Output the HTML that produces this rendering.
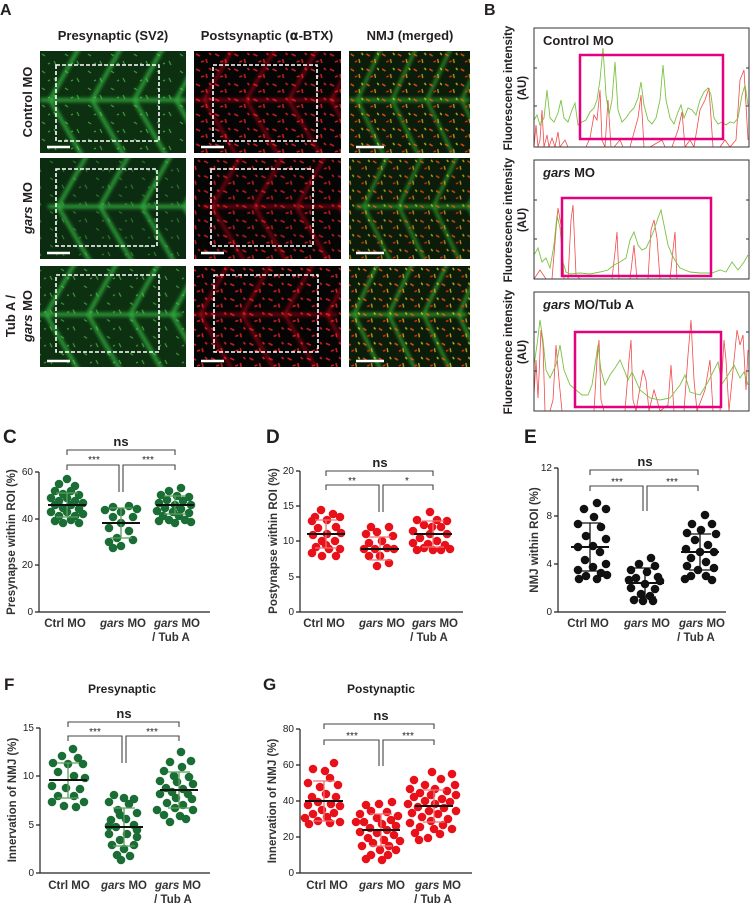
<!DOCTYPE html>
<html><head><meta charset="utf-8"><style>
html,body{margin:0;padding:0;background:#fff}
svg{display:block}
text{font-family:"Liberation Sans",sans-serif}
</style></head><body>
<svg width="753" height="903" viewBox="0 0 753 903" xmlns="http://www.w3.org/2000/svg" xmlns:xlink="http://www.w3.org/1999/xlink">
<defs>
<filter id="bl" x="-10%" y="-10%" width="120%" height="120%"><feGaussianBlur stdDeviation="1.8"/></filter>
<g id="chev" fill="none">
<line x1="0" y1="49" x2="146" y2="49"/>
<polyline points="40,-5 10,49 44,108"/>
<polyline points="82,-5 52,49 86,108"/>
<polyline points="124,-5 94,49 128,108"/>
<polyline points="166,-5 136,49 170,108"/>
</g>
<pattern id="pg" width="23" height="17" patternUnits="userSpaceOnUse">
<g stroke="#5fd35a" stroke-width="1.3"><line x1="2" y1="3" x2="5" y2="5"/><line x1="14" y1="10" x2="16" y2="14"/><line x1="8" y1="13" x2="10" y2="12"/></g></pattern>
<pattern id="pr" width="19" height="15" patternUnits="userSpaceOnUse">
<g stroke="#ff2424" stroke-width="1.6"><line x1="2" y1="3" x2="6" y2="5"/><line x1="12" y1="8" x2="13" y2="12"/><line x1="7" y1="11" x2="10" y2="10"/><line x1="15" y1="2" x2="17" y2="4"/></g></pattern>
<pattern id="po" width="19" height="15" patternUnits="userSpaceOnUse">
<g stroke-width="1.6"><line x1="2" y1="3" x2="6" y2="5" stroke="#ff5a10"/><line x1="12" y1="8" x2="13" y2="12" stroke="#e8b21a"/><line x1="7" y1="11" x2="10" y2="10" stroke="#ff3010"/><line x1="15" y1="2" x2="17" y2="4" stroke="#d8d020"/></g></pattern>
</defs>
<rect width="753" height="903" fill="#fff"/>

<g>
<svg x="40" y="51" width="146" height="102" viewBox="0 0 146 102" preserveAspectRatio="none"><rect width="146" height="102" fill="#0c3010"/><use xlink:href="#chev" stroke="#32a83c" stroke-width="3.5" filter="url(#bl)"/><rect width="146" height="102" fill="url(#pg)" opacity="0.6"/></svg>
<svg x="194" y="51" width="147" height="102" viewBox="0 0 146 102" preserveAspectRatio="none"><rect width="146" height="102" fill="#050505"/><use xlink:href="#chev" stroke="#a00c16" stroke-width="2.5" filter="url(#bl)"/><rect width="146" height="102" fill="url(#pr)" opacity="0.75"/></svg>
<svg x="349" y="51" width="121" height="102" viewBox="0 0 146 102" preserveAspectRatio="none"><rect width="146" height="102" fill="#0b1c0a"/><use xlink:href="#chev" stroke="#2a8a26" stroke-width="3.5" filter="url(#bl)"/><rect width="146" height="102" fill="url(#po)" opacity="0.8"/></svg>
<svg x="40" y="158" width="146" height="101" viewBox="-8 0 146 102" preserveAspectRatio="none"><rect x="-8" width="146" height="102" fill="#0b2c10"/><use xlink:href="#chev" stroke="#32a83c" stroke-width="3.5" filter="url(#bl)"/><rect x="-8" width="146" height="102" fill="url(#pg)" opacity="0.4"/></svg>
<svg x="194" y="158" width="147" height="101" viewBox="-8 0 146 102" preserveAspectRatio="none"><rect x="-8" width="146" height="102" fill="#050505"/><use xlink:href="#chev" stroke="#a00c16" stroke-width="2.5" filter="url(#bl)"/><rect x="-8" width="146" height="102" fill="url(#pr)" opacity="0.7"/></svg>
<svg x="349" y="158" width="121" height="101" viewBox="-8 0 146 102" preserveAspectRatio="none"><rect x="-8" width="146" height="102" fill="#0b1c0a"/><use xlink:href="#chev" stroke="#2a8a26" stroke-width="3.5" filter="url(#bl)"/><rect x="-8" width="146" height="102" fill="url(#po)" opacity="0.75"/></svg>
<svg x="40" y="266" width="146" height="101" viewBox="4 0 146 102" preserveAspectRatio="none"><rect x="4" width="146" height="102" fill="#0c3010"/><use xlink:href="#chev" stroke="#32a83c" stroke-width="3.5" filter="url(#bl)"/><rect x="4" width="146" height="102" fill="url(#pg)" opacity="0.6"/></svg>
<svg x="194" y="266" width="147" height="101" viewBox="4 0 146 102" preserveAspectRatio="none"><rect x="4" width="146" height="102" fill="#050505"/><use xlink:href="#chev" stroke="#a00c16" stroke-width="2.5" filter="url(#bl)"/><rect x="4" width="146" height="102" fill="url(#pr)" opacity="0.8"/></svg>
<svg x="349" y="266" width="121" height="101" viewBox="4 0 146 102" preserveAspectRatio="none"><rect x="4" width="146" height="102" fill="#0b1c0a"/><use xlink:href="#chev" stroke="#32982a" stroke-width="3.5" filter="url(#bl)"/><rect x="4" width="146" height="102" fill="url(#po)" opacity="0.85"/></svg>
<g fill="none" stroke="#fff" stroke-width="1.6" stroke-dasharray="4 2">
<rect x="56" y="65" width="103" height="76"/><rect x="213" y="65" width="104" height="76"/>
<rect x="56" y="169" width="101" height="77"/><rect x="211" y="169" width="102" height="77"/>
<rect x="56" y="275" width="103" height="77"/><rect x="214" y="275" width="104" height="77"/>
</g>
<g stroke="#fff" stroke-width="2.5">
<line x1="47" y1="147" x2="70" y2="147"/><line x1="201" y1="147" x2="224" y2="147"/><line x1="356" y1="147" x2="384" y2="147"/>
<line x1="47" y1="253" x2="70" y2="253"/><line x1="201" y1="253" x2="224" y2="253"/><line x1="356" y1="253" x2="384" y2="253"/>
<line x1="47" y1="361" x2="70" y2="361"/><line x1="201" y1="361" x2="224" y2="361"/><line x1="356" y1="361" x2="384" y2="361"/>
</g>
</g>

<g font-weight="bold" fill="#231f20">
<text x="0" y="15" font-size="16">A</text>
<text x="484" y="15" font-size="16">B</text>
<text x="113" y="40" font-size="13" text-anchor="middle">Presynaptic (SV2)</text>
<text x="267" y="40" font-size="13" text-anchor="middle">Postsynaptic (<tspan font-family="DejaVu Sans">α</tspan>-BTX)</text>
<text x="410" y="40" font-size="13" text-anchor="middle">NMJ (merged)</text>
<text transform="translate(32,102) rotate(-90)" font-size="13" text-anchor="middle">Control MO</text>
<text transform="translate(32,208) rotate(-90)" font-size="13" text-anchor="middle"><tspan font-style="italic">gars</tspan> MO</text>
<text transform="translate(15,316) rotate(-90)" font-size="13" text-anchor="middle">Tub A /</text>
<text transform="translate(32,316) rotate(-90)" font-size="13" text-anchor="middle"><tspan font-style="italic">gars</tspan> MO</text>
<text x="3" y="443" font-size="19">C</text>
<text x="266" y="443" font-size="19">D</text>
<text x="524" y="443" font-size="19">E</text>
<text x="4" y="690" font-size="17">F</text>
<text x="263" y="690" font-size="17">G</text>
<text x="122" y="693" font-size="12" text-anchor="middle">Presynaptic</text>
<text x="381" y="693" font-size="12" text-anchor="middle">Postynaptic</text>
</g>

<svg x="534" y="28" width="215" height="119" viewBox="534 28 215 119">
<polyline fill="none" stroke="#f24a4a" stroke-width="0.8" points="534,147 536,125 538,147 540,140 542,110 544,147 547,135 549,147 552,138 555,147 558,132 560,147 565,140 568,147 574,147 586,147 590,138 594,115 597,120 600,90 602,140 605,147 608,100 611,147 614,147 620,140 623,147 630,147 638,118 641,95 644,147 650,147 662,140 665,147 672,147 678,130 682,112 685,147 690,140 694,147 700,110 705,100 709,88 713,147 720,147 725,140 730,147 736,140 740,80 744,70 748,140"/>
<polyline fill="none" stroke="#7cc242" stroke-width="0.9" points="534,120 537,115 540,125 544,118 547,90 550,118 554,122 558,113 561,100 564,118 568,122 572,110 575,103 578,125 582,122 586,120 590,112 594,108 597,100 600,80 603,48 606,95 609,115 612,100 615,62 618,110 622,122 626,118 630,112 634,108 638,98 641,82 644,105 648,120 652,124 656,118 660,100 663,65 666,100 670,118 674,124 678,112 681,105 684,118 688,108 692,110 696,115 700,100 704,92 708,88 711,95 714,118 718,124 722,122 726,125 730,122 734,123 738,118 742,95 745,85 748,105"/>
</svg>
<svg x="534" y="160" width="215" height="119" viewBox="534 160 215 119">
<polyline fill="none" stroke="#f24a4a" stroke-width="0.8" points="534,279 540,270 546,279 552,279 556,230 558,208 561,225 564,279 568,279 571,220 573,205 576,275 580,279 600,279 612,279 615,252 617,232 619,279 630,279 634,245 637,279 648,279 651,230 654,220 657,238 660,279 670,279 673,250 675,232 677,279 700,279 749,279"/>
<polyline fill="none" stroke="#7cc242" stroke-width="0.9" points="534,255 538,248 542,262 546,258 550,268 554,245 557,215 560,228 563,262 566,272 570,274 580,273 590,274 600,272 608,270 614,265 620,262 626,258 630,240 634,232 638,245 642,250 646,248 650,240 654,230 658,218 661,210 664,225 668,245 672,255 676,262 680,268 690,272 700,273 712,273 720,270 726,272 732,262 738,270 744,262 748,255"/>
</svg>
<svg x="534" y="292" width="215" height="119" viewBox="534 292 215 119">
<polyline fill="none" stroke="#f24a4a" stroke-width="0.8" points="534,395 536,360 538,398 541,330 543,345 545,411 550,411 553,400 556,345 559,380 562,411 580,411 594,411 597,360 599,340 601,400 604,411 625,411 629,360 631,340 633,400 636,411 643,370 646,380 649,411 654,390 657,400 660,411 668,405 671,365 674,411 684,411 688,355 691,320 694,380 697,411 705,390 710,360 713,411 720,411 724,340 726,360 729,411 737,330 740,345 743,335 746,390 748,350"/>
<polyline fill="none" stroke="#7cc242" stroke-width="0.9" points="534,365 537,345 540,320 543,340 546,370 550,378 556,365 560,345 564,370 570,385 576,390 582,395 588,395 592,385 595,365 598,345 601,370 605,385 610,375 615,368 620,360 625,372 628,380 632,372 640,390 650,398 660,400 670,398 680,385 685,375 690,392 700,395 708,382 714,370 718,362 722,384 728,375 734,365 740,378 744,372 748,385"/>
</svg>
<g fill="none" stroke="#333" stroke-width="1">
<rect x="534" y="28" width="215" height="119"/><rect x="534" y="160" width="215" height="119"/><rect x="534" y="292" width="215" height="119"/>
<path d="M534 68h3M534 106h3M746 68h3M746 106h3M534 200h3M534 239h3M746 200h3M746 239h3M534 332h3M534 371h3M746 332h3M746 371h3"/>
</g>
<g fill="none" stroke="#e5007e" stroke-width="2.5">
<rect x="580" y="55" width="143" height="84"/><rect x="562" y="198" width="149" height="78"/><rect x="575" y="332" width="146" height="75"/>
</g>
<g font-size="13" font-weight="bold" fill="#231f20">
<text x="543" y="45">Control MO</text>
<text x="543" y="177"><tspan font-style="italic">gars</tspan> MO</text>
<text x="543" y="309"><tspan font-style="italic">gars</tspan> MO/Tub A</text>
</g>
<g font-size="11.5" font-weight="bold" fill="#231f20" text-anchor="middle">
<text transform="translate(512,88) rotate(-90)">Fluorescence intensity</text><text transform="translate(526,88) rotate(-90)">(AU)</text>
<text transform="translate(512,220) rotate(-90)">Fluorescence intensity</text><text transform="translate(526,220) rotate(-90)">(AU)</text>
<text transform="translate(512,352) rotate(-90)">Fluorescence intensity</text><text transform="translate(526,352) rotate(-90)">(AU)</text>
</g>

<g stroke="#222" stroke-width="1.2" fill="none">
<path d="M39 472V612H210M35 612h4M35 565h4M35 519h4M35 472h4"/>
<path d="M300 471V612H463M296 612h4M296 577h4M296 541h4M296 506h4M296 471h4"/>
<path d="M558 468V612H726M554 612h4M554 564h4M554 516h4M554 468h4"/>
<path d="M40 728V873H210M36 873h4M36 825h4M36 776h4M36 728h4"/>
<path d="M300 729V873H472M296 873h4M296 837h4M296 801h4M296 765h4M296 729h4"/>
</g>
<g font-size="10" fill="#222" text-anchor="end">
<text x="33" y="615">0</text><text x="33" y="568">20</text><text x="33" y="522">40</text><text x="33" y="475">60</text>
<text x="294" y="615">0</text><text x="294" y="580">5</text><text x="294" y="544">10</text><text x="294" y="509">15</text><text x="294" y="474">20</text>
<text x="552" y="615">0</text><text x="552" y="567">4</text><text x="552" y="519">8</text><text x="552" y="471">12</text>
<text x="34" y="876">0</text><text x="34" y="828">5</text><text x="34" y="779">10</text><text x="34" y="731">15</text>
<text x="294" y="876">0</text><text x="294" y="840">20</text><text x="294" y="804">40</text><text x="294" y="768">60</text><text x="294" y="732">80</text>
</g>
<g font-size="11.5" font-weight="bold" fill="#333" text-anchor="middle">
<text transform="translate(15,542) rotate(-90)">Presynapse within ROI (%)</text>
<text transform="translate(277,541) rotate(-90)">Postynapse within ROI (%)</text>
<text transform="translate(538,540) rotate(-90)">NMJ within ROI (%)</text>
<text transform="translate(16,800) rotate(-90)">Innervation of NMJ (%)</text>
<text transform="translate(276,801) rotate(-90)">Innervation of NMJ (%)</text>
</g>
<g font-size="11.5" font-weight="bold" fill="#333" text-anchor="middle">
<text x="65" y="627">Ctrl MO</text><text x="123" y="627"><tspan font-style="italic">gars</tspan> MO</text><text x="177" y="627"><tspan font-style="italic">gars</tspan> MO</text><text x="171" y="641">/ Tub A</text>
<text x="324" y="627">Ctrl MO</text><text x="382" y="627"><tspan font-style="italic">gars</tspan> MO</text><text x="435" y="627"><tspan font-style="italic">gars</tspan> MO</text><text x="429" y="641">/ Tub A</text>
<text x="588" y="627">Ctrl MO</text><text x="647" y="627"><tspan font-style="italic">gars</tspan> MO</text><text x="702" y="627"><tspan font-style="italic">gars</tspan> MO</text><text x="696" y="641">/ Tub A</text>
<text x="69" y="889">Ctrl MO</text><text x="124" y="889"><tspan font-style="italic">gars</tspan> MO</text><text x="178" y="889"><tspan font-style="italic">gars</tspan> MO</text><text x="173" y="903">/ Tub A</text>
<text x="327" y="889">Ctrl MO</text><text x="382" y="889"><tspan font-style="italic">gars</tspan> MO</text><text x="438" y="889"><tspan font-style="italic">gars</tspan> MO</text><text x="433" y="903">/ Tub A</text>
</g>
<g fill="none" stroke="#444" stroke-width="1.1">
<path d="M67 455V450H175V455M67 470V465H119V492M175 470V465H123V492"/>
<path d="M326 476V471H433V476M326 490V485H379V512M433 490V485H383V512"/>
<path d="M590 475V470H698V475M590 491V486H643V511M698 491V486H647V511"/>
<path d="M68 727V722H179V727M68 741V736H122V763M179 741V736H126V763"/>
<path d="M324 729V724H434V729M324 745V740H379V766M434 745V740H383V766"/>
</g>
<g font-size="13" font-weight="bold" fill="#222" text-anchor="middle">
<text x="121" y="446">ns</text><text x="380" y="467">ns</text><text x="645" y="466">ns</text><text x="124" y="718">ns</text><text x="381" y="720">ns</text>
</g>
<g font-size="10" fill="#222" text-anchor="middle">
<text x="94" y="463">***</text><text x="148" y="463">***</text>
<text x="352" y="484">**</text><text x="407" y="484">*</text>
<text x="617" y="485">***</text><text x="672" y="485">***</text>
<text x="95" y="735">***</text><text x="152" y="735">***</text>
<text x="352" y="739">***</text><text x="408" y="739">***</text>
</g>

<g fill="#1a6e35">
<circle cx="67" cy="479" r="4.3"/><circle cx="59" cy="484" r="4.3"/><circle cx="75" cy="486" r="4.3"/><circle cx="55" cy="491" r="4.3"/><circle cx="71" cy="491" r="4.3"/><circle cx="63" cy="494" r="4.3"/><circle cx="79" cy="495" r="4.3"/><circle cx="51" cy="498" r="4.3"/><circle cx="67" cy="498" r="4.3"/><circle cx="59" cy="501" r="4.3"/><circle cx="75" cy="501" r="4.3"/><circle cx="83" cy="503" r="4.3"/><circle cx="55" cy="505" r="4.3"/><circle cx="71" cy="505" r="4.3"/><circle cx="63" cy="508" r="4.3"/><circle cx="79" cy="509" r="4.3"/><circle cx="51" cy="512" r="4.3"/><circle cx="67" cy="512" r="4.3"/><circle cx="59" cy="516" r="4.3"/><circle cx="75" cy="516" r="4.3"/><circle cx="83" cy="514" r="4.3"/><circle cx="55" cy="521" r="4.3"/><circle cx="71" cy="520" r="4.3"/><circle cx="63" cy="523" r="4.3"/><circle cx="79" cy="523" r="4.3"/>
<circle cx="113" cy="507" r="4.3"/><circle cx="129" cy="506" r="4.3"/><circle cx="137" cy="509" r="4.3"/><circle cx="105" cy="510" r="4.3"/><circle cx="121" cy="512" r="4.3"/><circle cx="113" cy="517" r="4.3"/><circle cx="133" cy="517" r="4.3"/><circle cx="121" cy="523" r="4.3"/><circle cx="109" cy="528" r="4.3"/><circle cx="129" cy="531" r="4.3"/><circle cx="117" cy="538" r="4.3"/><circle cx="109" cy="542" r="4.3"/><circle cx="133" cy="540" r="4.3"/><circle cx="121" cy="546" r="4.3"/><circle cx="113" cy="548" r="4.3"/>
<circle cx="181" cy="488" r="4.3"/><circle cx="169" cy="491" r="4.3"/><circle cx="161" cy="495" r="4.3"/><circle cx="177" cy="496" r="4.3"/><circle cx="189" cy="497" r="4.3"/><circle cx="167" cy="500" r="4.3"/><circle cx="183" cy="501" r="4.3"/><circle cx="159" cy="503" r="4.3"/><circle cx="175" cy="505" r="4.3"/><circle cx="191" cy="505" r="4.3"/><circle cx="165" cy="508" r="4.3"/><circle cx="181" cy="509" r="4.3"/><circle cx="157" cy="511" r="4.3"/><circle cx="173" cy="512" r="4.3"/><circle cx="189" cy="513" r="4.3"/><circle cx="163" cy="516" r="4.3"/><circle cx="179" cy="516" r="4.3"/><circle cx="169" cy="520" r="4.3"/><circle cx="185" cy="520" r="4.3"/><circle cx="159" cy="521" r="4.3"/><circle cx="175" cy="523" r="4.3"/><circle cx="191" cy="522" r="4.3"/>
</g>
<g fill="#e8111a">
<circle cx="321" cy="510" r="4.3"/><circle cx="333" cy="514" r="4.3"/><circle cx="315" cy="517" r="4.3"/><circle cx="340" cy="517" r="4.3"/><circle cx="327" cy="520" r="4.3"/><circle cx="312" cy="521" r="4.3"/><circle cx="336" cy="527" r="4.3"/><circle cx="318" cy="528" r="4.3"/><circle cx="327" cy="534" r="4.3"/><circle cx="341" cy="533" r="4.3"/><circle cx="313" cy="535" r="4.3"/><circle cx="322" cy="541" r="4.3"/><circle cx="335" cy="541" r="4.3"/><circle cx="316" cy="547" r="4.3"/><circle cx="329" cy="549" r="4.3"/><circle cx="340" cy="549" r="4.3"/><circle cx="312" cy="553" r="4.3"/><circle cx="322" cy="556" r="4.3"/><circle cx="336" cy="556" r="4.3"/><circle cx="326" cy="545" r="4.3"/>
<circle cx="371" cy="527" r="4.3"/><circle cx="389" cy="527" r="4.3"/><circle cx="377" cy="532" r="4.3"/><circle cx="366" cy="534" r="4.3"/><circle cx="393" cy="536" r="4.3"/><circle cx="382" cy="541" r="4.3"/><circle cx="369" cy="543" r="4.3"/><circle cx="387" cy="548" r="4.3"/><circle cx="375" cy="549" r="4.3"/><circle cx="364" cy="549" r="4.3"/><circle cx="394" cy="549" r="4.3"/><circle cx="380" cy="556" r="4.3"/><circle cx="369" cy="556" r="4.3"/><circle cx="389" cy="563" r="4.3"/><circle cx="377" cy="566" r="4.3"/>
<circle cx="430" cy="512" r="4.3"/><circle cx="417" cy="520" r="4.3"/><circle cx="437" cy="520" r="4.3"/><circle cx="447" cy="521" r="4.3"/><circle cx="424" cy="525" r="4.3"/><circle cx="441" cy="527" r="4.3"/><circle cx="413" cy="531" r="4.3"/><circle cx="430" cy="534" r="4.3"/><circle cx="447" cy="534" r="4.3"/><circle cx="420" cy="538" r="4.3"/><circle cx="437" cy="541" r="4.3"/><circle cx="413" cy="543" r="4.3"/><circle cx="445" cy="545" r="4.3"/><circle cx="424" cy="548" r="4.3"/><circle cx="433" cy="550" r="4.3"/><circle cx="417" cy="550" r="4.3"/><circle cx="441" cy="550" r="4.3"/><circle cx="450" cy="549" r="4.3"/><circle cx="428" cy="544" r="4.3"/><circle cx="432" cy="527" r="4.3"/>
</g>
<g fill="#111">
<circle cx="597" cy="503" r="4.3"/><circle cx="584" cy="509" r="4.3"/><circle cx="606" cy="509" r="4.3"/><circle cx="594" cy="517" r="4.3"/><circle cx="578" cy="524" r="4.3"/><circle cx="601" cy="527" r="4.3"/><circle cx="586" cy="536" r="4.3"/><circle cx="606" cy="539" r="4.3"/><circle cx="593" cy="546" r="4.3"/><circle cx="578" cy="547" r="4.3"/><circle cx="600" cy="552" r="4.3"/><circle cx="585" cy="560" r="4.3"/><circle cx="606" cy="564" r="4.3"/><circle cx="593" cy="567" r="4.3"/><circle cx="578" cy="570" r="4.3"/><circle cx="601" cy="573" r="4.3"/><circle cx="586" cy="576" r="4.3"/><circle cx="597" cy="579" r="4.3"/><circle cx="579" cy="579" r="4.3"/><circle cx="607" cy="575" r="4.3"/>
<circle cx="651" cy="558" r="4.3"/><circle cx="639" cy="564" r="4.3"/><circle cx="655" cy="566" r="4.3"/><circle cx="631" cy="570" r="4.3"/><circle cx="647" cy="572" r="4.3"/><circle cx="658" cy="577" r="4.3"/><circle cx="636" cy="578" r="4.3"/><circle cx="645" cy="584" r="4.3"/><circle cx="631" cy="588" r="4.3"/><circle cx="655" cy="589" r="4.3"/><circle cx="641" cy="594" r="4.3"/><circle cx="650" cy="596" r="4.3"/><circle cx="634" cy="600" r="4.3"/><circle cx="653" cy="601" r="4.3"/><circle cx="643" cy="601" r="4.3"/><circle cx="660" cy="581" r="4.3"/><circle cx="629" cy="580" r="4.3"/>
<circle cx="705" cy="515" r="4.3"/><circle cx="692" cy="524" r="4.3"/><circle cx="712" cy="524" r="4.3"/><circle cx="701" cy="530" r="4.3"/><circle cx="687" cy="533" r="4.3"/><circle cx="716" cy="534" r="4.3"/><circle cx="695" cy="540" r="4.3"/><circle cx="708" cy="545" r="4.3"/><circle cx="686" cy="549" r="4.3"/><circle cx="700" cy="552" r="4.3"/><circle cx="714" cy="552" r="4.3"/><circle cx="691" cy="558" r="4.3"/><circle cx="706" cy="562" r="4.3"/><circle cx="687" cy="566" r="4.3"/><circle cx="698" cy="570" r="4.3"/><circle cx="714" cy="568" r="4.3"/><circle cx="691" cy="576" r="4.3"/><circle cx="706" cy="576" r="4.3"/><circle cx="685" cy="579" r="4.3"/><circle cx="712" cy="580" r="4.3"/>
</g>
<g fill="#1a6e35">
<circle cx="73" cy="749" r="4.3"/><circle cx="62" cy="756" r="4.3"/><circle cx="78" cy="758" r="4.3"/><circle cx="53" cy="763" r="4.3"/><circle cx="68" cy="764" r="4.3"/><circle cx="83" cy="764" r="4.3"/><circle cx="58" cy="772" r="4.3"/><circle cx="74" cy="776" r="4.3"/><circle cx="85" cy="778" r="4.3"/><circle cx="52" cy="786" r="4.3"/><circle cx="66" cy="788" r="4.3"/><circle cx="80" cy="789" r="4.3"/><circle cx="58" cy="796" r="4.3"/><circle cx="74" cy="796" r="4.3"/><circle cx="52" cy="802" r="4.3"/><circle cx="84" cy="802" r="4.3"/><circle cx="64" cy="806" r="4.3"/><circle cx="76" cy="807" r="4.3"/>
<circle cx="114" cy="795" r="4.3"/><circle cx="124" cy="798" r="4.3"/><circle cx="134" cy="799" r="4.3"/><circle cx="109" cy="802" r="4.3"/><circle cx="129" cy="804" r="4.3"/><circle cx="118" cy="810" r="4.3"/><circle cx="137" cy="813" r="4.3"/><circle cx="111" cy="820" r="4.3"/><circle cx="126" cy="819" r="4.3"/><circle cx="134" cy="825" r="4.3"/><circle cx="116" cy="827" r="4.3"/><circle cx="109" cy="834" r="4.3"/><circle cx="127" cy="834" r="4.3"/><circle cx="137" cy="837" r="4.3"/><circle cx="120" cy="840" r="4.3"/><circle cx="112" cy="845" r="4.3"/><circle cx="134" cy="845" r="4.3"/><circle cx="124" cy="849" r="4.3"/><circle cx="117" cy="855" r="4.3"/><circle cx="130" cy="856" r="4.3"/><circle cx="121" cy="860" r="4.3"/><circle cx="109" cy="826" r="4.3"/><circle cx="137" cy="830" r="4.3"/><circle cx="120" cy="815" r="4.3"/>
<circle cx="181" cy="752" r="4.3"/><circle cx="170" cy="762" r="4.3"/><circle cx="191" cy="761" r="4.3"/><circle cx="182" cy="767" r="4.3"/><circle cx="164" cy="771" r="4.3"/><circle cx="174" cy="776" r="4.3"/><circle cx="189" cy="777" r="4.3"/><circle cx="160" cy="781" r="4.3"/><circle cx="177" cy="782" r="4.3"/><circle cx="193" cy="784" r="4.3"/><circle cx="166" cy="788" r="4.3"/><circle cx="183" cy="789" r="4.3"/><circle cx="172" cy="792" r="4.3"/><circle cx="188" cy="794" r="4.3"/><circle cx="160" cy="794" r="4.3"/><circle cx="176" cy="798" r="4.3"/><circle cx="192" cy="799" r="4.3"/><circle cx="167" cy="803" r="4.3"/><circle cx="183" cy="805" r="4.3"/><circle cx="157" cy="810" r="4.3"/><circle cx="175" cy="808" r="4.3"/><circle cx="193" cy="810" r="4.3"/><circle cx="164" cy="815" r="4.3"/><circle cx="180" cy="816" r="4.3"/><circle cx="170" cy="822" r="4.3"/><circle cx="186" cy="819" r="4.3"/>
</g>
<g fill="#e8111a">
<circle cx="334" cy="763" r="4.3"/><circle cx="313" cy="769" r="4.3"/><circle cx="325" cy="771" r="4.3"/><circle cx="330" cy="778" r="4.3"/><circle cx="308" cy="783" r="4.3"/><circle cx="338" cy="785" r="4.3"/><circle cx="320" cy="787" r="4.3"/><circle cx="326" cy="794" r="4.3"/><circle cx="312" cy="797" r="4.3"/><circle cx="336" cy="797" r="4.3"/><circle cx="318" cy="802" r="4.3"/><circle cx="331" cy="804" r="4.3"/><circle cx="308" cy="805" r="4.3"/><circle cx="340" cy="806" r="4.3"/><circle cx="322" cy="810" r="4.3"/><circle cx="313" cy="814" r="4.3"/><circle cx="334" cy="813" r="4.3"/><circle cx="305" cy="818" r="4.3"/><circle cx="327" cy="817" r="4.3"/><circle cx="318" cy="821" r="4.3"/><circle cx="340" cy="822" r="4.3"/><circle cx="309" cy="824" r="4.3"/><circle cx="330" cy="823" r="4.3"/>
<circle cx="366" cy="805" r="4.3"/><circle cx="379" cy="804" r="4.3"/><circle cx="392" cy="802" r="4.3"/><circle cx="371" cy="811" r="4.3"/><circle cx="387" cy="812" r="4.3"/><circle cx="360" cy="814" r="4.3"/><circle cx="398" cy="816" r="4.3"/><circle cx="377" cy="818" r="4.3"/><circle cx="391" cy="820" r="4.3"/><circle cx="364" cy="822" r="4.3"/><circle cx="382" cy="824" r="4.3"/><circle cx="396" cy="826" r="4.3"/><circle cx="370" cy="828" r="4.3"/><circle cx="387" cy="830" r="4.3"/><circle cx="360" cy="832" r="4.3"/><circle cx="377" cy="833" r="4.3"/><circle cx="394" cy="835" r="4.3"/><circle cx="368" cy="838" r="4.3"/><circle cx="384" cy="840" r="4.3"/><circle cx="400" cy="841" r="4.3"/><circle cx="373" cy="843" r="4.3"/><circle cx="389" cy="846" r="4.3"/><circle cx="362" cy="846" r="4.3"/><circle cx="380" cy="850" r="4.3"/><circle cx="396" cy="850" r="4.3"/><circle cx="371" cy="855" r="4.3"/><circle cx="388" cy="855" r="4.3"/><circle cx="366" cy="859" r="4.3"/><circle cx="382" cy="860" r="4.3"/><circle cx="356" cy="822" r="4.3"/>
<circle cx="432" cy="772" r="4.3"/><circle cx="452" cy="774" r="4.3"/><circle cx="414" cy="780" r="4.3"/><circle cx="441" cy="779" r="4.3"/><circle cx="425" cy="785" r="4.3"/><circle cx="455" cy="785" r="4.3"/><circle cx="410" cy="789" r="4.3"/><circle cx="435" cy="789" r="4.3"/><circle cx="447" cy="791" r="4.3"/><circle cx="420" cy="793" r="4.3"/><circle cx="431" cy="795" r="4.3"/><circle cx="456" cy="795" r="4.3"/><circle cx="414" cy="797" r="4.3"/><circle cx="442" cy="799" r="4.3"/><circle cx="425" cy="801" r="4.3"/><circle cx="450" cy="802" r="4.3"/><circle cx="408" cy="804" r="4.3"/><circle cx="435" cy="804" r="4.3"/><circle cx="418" cy="807" r="4.3"/><circle cx="444" cy="808" r="4.3"/><circle cx="429" cy="811" r="4.3"/><circle cx="456" cy="811" r="4.3"/><circle cx="412" cy="813" r="4.3"/><circle cx="438" cy="814" r="4.3"/><circle cx="422" cy="817" r="4.3"/><circle cx="448" cy="819" r="4.3"/><circle cx="431" cy="821" r="4.3"/><circle cx="410" cy="823" r="4.3"/><circle cx="443" cy="825" r="4.3"/><circle cx="420" cy="827" r="4.3"/><circle cx="434" cy="829" r="4.3"/><circle cx="452" cy="829" r="4.3"/><circle cx="415" cy="833" r="4.3"/><circle cx="440" cy="834" r="4.3"/><circle cx="428" cy="838" r="4.3"/><circle cx="419" cy="840" r="4.3"/>
</g>

<g fill="none" stroke-width="1.3">
<path stroke="#5a9e5a" d="M67 493V517M56 493h22M56 517h22M121 508V538M110 508h22M110 538h22M175 496V514M164 496h22M164 514h22"/>
<path stroke="#f07070" d="M326 520V548M315 520h22M315 548h22M380 537V560M369 537h22M369 560h22M433 521V547M422 521h22M422 547h22"/>
<path stroke="#111" d="M590 523V571M579 523h22M579 571h22M645 568V597M634 568h22M634 597h22M700 534V570M689 534h22M689 570h22"/>
<path stroke="#5a9e5a" d="M68 763V798M57 763h22M57 798h22M124 808V846M113 808h22M113 846h22M179 772V808M168 772h22M168 808h22"/>
<path stroke="#f07070" d="M324 781V821M313 781h22M313 821h22M381 814V846M370 814h22M370 846h22M434 790V822M423 790h22M423 822h22"/>
</g>
<g stroke="#111" stroke-width="2">
<path d="M48 505h38M102 523h38M156 505h38"/>
<path d="M307 534h38M361 549h38M414 534h38"/>
<path d="M571 547h38M626 583h38M681 552h38"/>
<path d="M49 780h38M105 827h38M160 790h38"/>
<path d="M305 801h38M362 830h38M415 806h38"/>
</g>
</svg>
</body></html>
